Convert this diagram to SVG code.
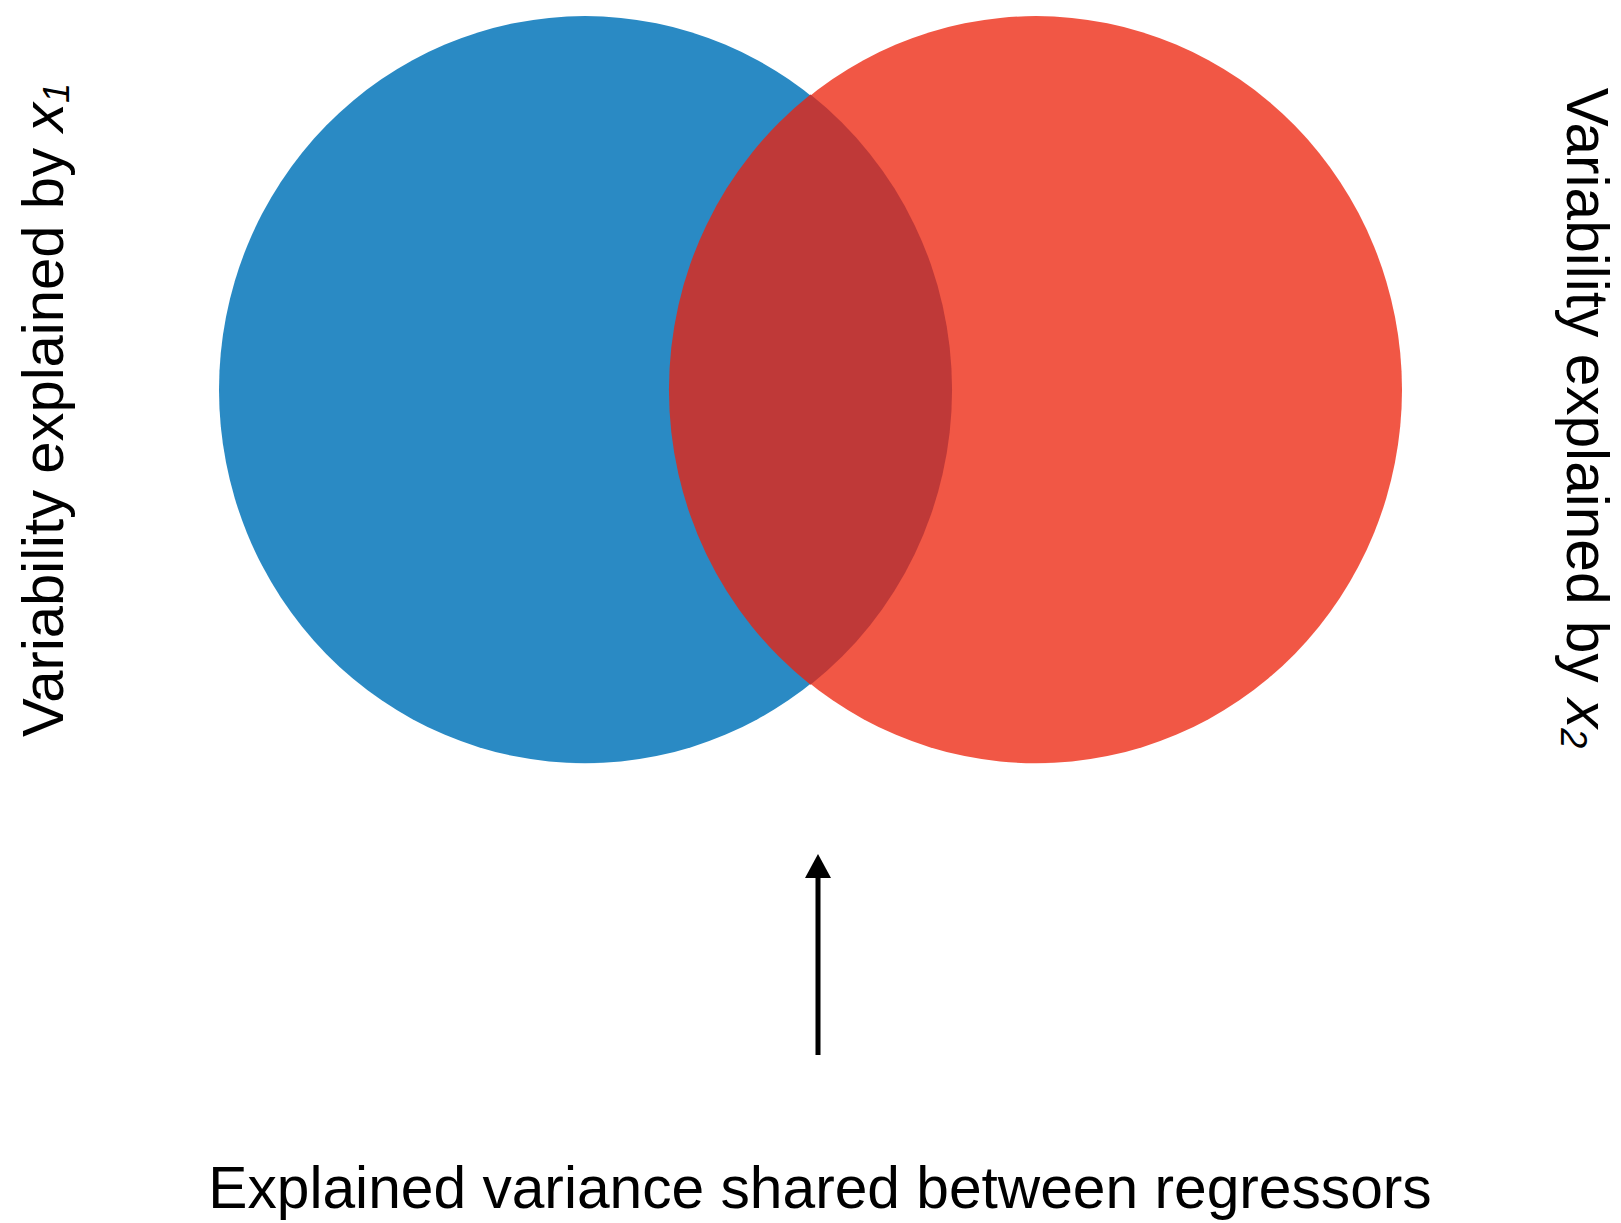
<svg xmlns="http://www.w3.org/2000/svg" width="1621" height="1223" viewBox="0 0 1621 1223">
<style>
.lbl{font-family:"Liberation Sans",Arial,Helvetica,sans-serif;font-size:58px;fill:#000}
.it{font-style:italic}
.sub{font-size:36px}
.conn{stroke:#000;stroke-width:5;fill:none}
</style>
<defs>
<marker id="ah" markerUnits="userSpaceOnUse" markerWidth="26" markerHeight="26" viewBox="0 0 24 26" refX="0" refY="13" orient="auto">
<path d="M0,0 L24,13 L0,26 z" fill="#000"/>
</marker>
</defs>
<rect width="1621" height="1223" fill="#fff"/>
<g id="x1-set">
<ellipse cx="585" cy="389.7" rx="366" ry="373.6" fill="#2A8AC4"/>
</g>
<g id="x2-set">
<ellipse cx="1036" cy="389.7" rx="366" ry="373.6" fill="#F15745"/>
</g>
<g id="overlap">
<path d="M810.5,94.6 A366,373.6 0 0 1 810.5,684.8 A366,373.6 0 0 1 810.5,94.6 Z" fill="#BF3938"/>
</g>
<g id="connectors">
<line class="conn" x1="818" y1="1055" x2="818" y2="878" marker-end="url(#ah)"/>
</g>
<g id="label-x1">
<text class="lbl" transform="translate(63,410) rotate(-90)" text-anchor="middle">Variability explained by <tspan class="it">x</tspan><tspan class="it sub" dy="6">1</tspan></text>
</g>
<g id="label-x2">
<text class="lbl" transform="translate(1567,418) rotate(90)" text-anchor="middle" style="font-size:58.6px">Variability explained by <tspan class="it">x</tspan><tspan class="it sub" dy="6">2</tspan></text>
</g>
<g id="label-shared">
<text class="lbl" x="820" y="1208" text-anchor="middle" style="font-size:58.7px">Explained variance shared between regressors</text>
</g>
</svg>
